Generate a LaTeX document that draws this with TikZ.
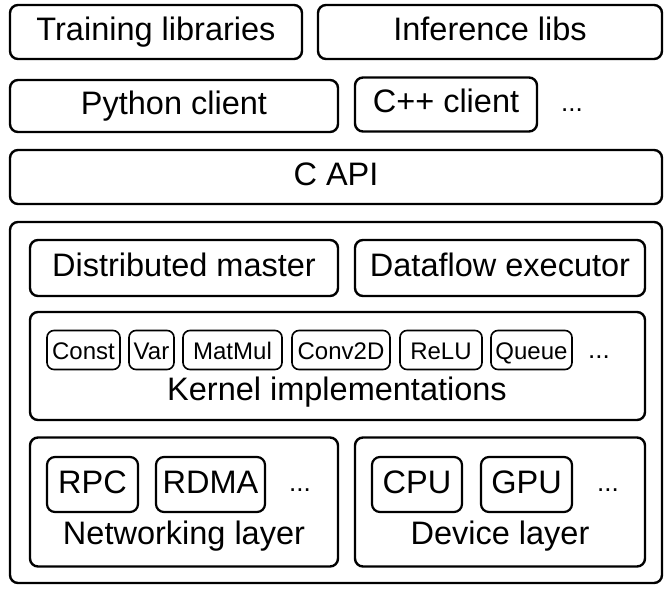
\documentclass[tikz,border=0pt]{standalone}
\usepackage{fontspec}
\setmainfont{Liberation Sans}
\tikzset{
    layer/.style={draw, line width=2.4pt, rounded corners=8pt, inner sep=0pt,
        text height=23.5pt, text depth=7pt, font=\fontsize{32.5}{38}\selectfont},
    op/.style={draw, line width=1.6pt, rounded corners=7pt, inner sep=0pt,
        minimum height=39, text height=18pt, text depth=0pt,
        font=\fontsize{24}{28}\selectfont},
    unit/.style={draw, line width=2.2pt, rounded corners=8pt, inner sep=0pt,
        minimum height=55, text height=23.5pt, text depth=6.5pt,
        font=\fontsize{32.5}{38}\selectfont},
    lbl/.style={inner sep=0pt, anchor=base, font=\fontsize{32.5}{38}\selectfont},
    more/.style={inner sep=0pt, anchor=base, font=\fontsize{26}{30}\selectfont},
}
\begin{document}
\begin{tikzpicture}[x=1pt,y=-1pt]
    \useasboundingbox (0,0) rectangle (670,590);
    % client side
    \node[layer, minimum width=292, minimum height=54] (train) at (156,32) {Training libraries};
    \node[layer, minimum width=344, minimum height=54] (infer) at (490,32) {Inference libs};
    \node[layer, minimum width=328, minimum height=52] (python) at (174,106) {Python client};
    \node[layer, minimum width=182, minimum height=54] (cpp) at (446,104.5) {C++ client};
    \node[more] (clientmore) at (572,111) {...};
    \node[layer, minimum width=652, minimum height=54] (capi) at (336,177) {C API};
    % runtime
    \node[layer, minimum width=652, minimum height=361] (core) at (336,402.5) {};
    \node[layer, minimum width=308, minimum height=56] (master) at (184,268) {Distributed master};
    \node[layer, minimum width=290, minimum height=56] (dataflow) at (500,268) {Dataflow executor};
    % kernels
    \node[layer, minimum width=615, minimum height=108] (kernel) at (337.5,366) {};
    \node[op, minimum width=73] (const) at (83.5,350) {Const};
    \node[op, minimum width=45] (var) at (151.5,350) {Var};
    \node[op, minimum width=99] (matmul) at (232.5,350) {MatMul};
    \node[op, minimum width=98] (conv) at (341,350) {Conv2D};
    \node[op, minimum width=82] (relu) at (441,350) {ReLU};
    \node[op, minimum width=81] (queue) at (531.5,350) {Queue};
    \node[more] (opmore) at (599,358) {...};
    \node[lbl] (kernellbl) at (337,400) {Kernel implementations};
    % networking and devices
    \node[layer, minimum width=308, minimum height=129] (net) at (184,502) {};
    \node[layer, minimum width=290, minimum height=129] (dev) at (500,502) {};
    \node[unit, minimum width=91] (rpc) at (92.5,484.5) {RPC};
    \node[unit, minimum width=109] (rdma) at (210.5,484.5) {RDMA};
    \node[more] (netmore) at (300,491) {...};
    \node[unit, minimum width=90] (cpu) at (417,484.5) {CPU};
    \node[unit, minimum width=91] (gpu) at (526.5,484.5) {GPU};
    \node[more] (devmore) at (608,491) {...};
    \node[lbl] (netlbl) at (184,544) {Networking layer};
    \node[lbl] (devlbl) at (500,544) {Device layer};
\end{tikzpicture}
\end{document}
